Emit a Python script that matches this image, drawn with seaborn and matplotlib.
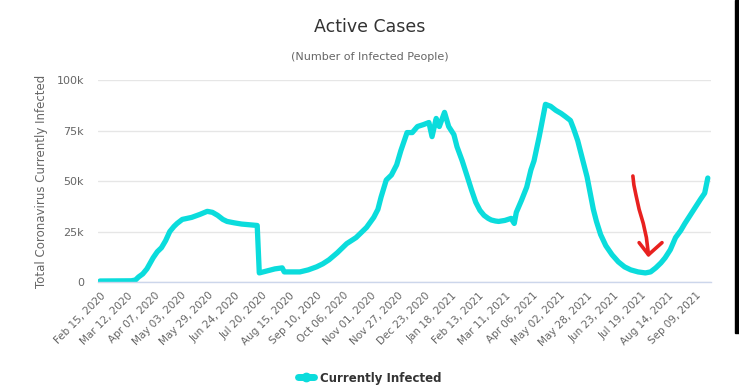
import pandas as pd
import matplotlib.pyplot as plt
from matplotlib.lines import Line2D
from matplotlib.patches import Rectangle
import seaborn as sns

start = pd.Timestamp("2020-02-15")

# days after Feb 15, 2020 and active cases (thousands)
days = [0, 30, 34, 37, 41, 45, 51, 55, 59, 63, 67, 71, 74, 79, 88, 96, 103,
        108, 113, 118, 122, 129, 136, 151, 153,
        168, 175, 177, 192, 200, 208, 214, 220, 228, 237, 246, 256, 263, 267,
        270, 275, 280, 285, 289, 295, 300, 305, 311, 316, 319, 323, 326, 331,
        335, 340, 343, 348, 353, 357, 361, 365, 369, 373, 376, 380, 383, 389,
        395, 398, 400, 405, 410, 414, 417, 422, 425,
        428, 433, 438, 443, 447, 452, 455, 459, 463, 468, 471, 474, 477, 481,
        486, 492, 498, 504, 510, 517, 524, 529, 534, 539, 543, 548, 553, 558,
        562, 567, 572, 577, 581, 584]
cases_k = [0.5, 0.6, 1, 2.5, 4, 6.5, 12, 15, 17, 20.5, 25, 27.5, 29, 31, 32, 33.5,
           35, 34.5, 33, 31, 30, 29.3, 28.7, 28, 4.5,
           6.5, 7, 5, 5, 6, 7.5, 9, 11, 14.5, 19, 22, 27, 32, 36,
           42, 50.5, 53, 58, 65, 74, 74, 77, 78, 79, 72, 81, 77, 84,
           77, 73, 67, 60, 52, 45.5, 39.5, 35.5, 33, 31.5, 30.7, 30.2, 30, 30.5,
           31.5, 29, 34.5, 40.5, 47, 55.5, 60, 72, 80,
           88, 87, 85, 83.5, 82, 80, 76, 70, 62, 52, 44, 36, 30, 23.5,
           18, 13.5, 10, 7.5, 6, 5, 4.5, 5, 7, 9.5, 12, 16, 22, 25.5,
           29, 33, 37, 41, 44, 51.5]

tick_step_days = 26
n_ticks = 23
y_ticks_k = [0, 25, 50, 75, 100]
y_tick_labels = ["0", "25k", "50k", "75k", "100k"]

# hand-drawn red arrow (days, thousands)
arrow_shaft_days = [512, 513, 515, 518, 522, 525, 527]
arrow_shaft_k = [52.5, 48, 43, 36, 29, 22, 13.5]
arrow_head_days = [518, 527, 540]
arrow_head_k = [19.5, 13.5, 19.5]

df = pd.DataFrame({
    "date": start + pd.to_timedelta(days, unit="D"),
    "cases": [v * 1000 for v in cases_k],
})

sns.set_style("white")
plt.rcParams["font.family"] = ["DejaVu Sans"]

fig = plt.figure(figsize=(7.39, 3.85), dpi=100)
ax = fig.add_axes([0.1326, 0.2675, 0.962 - 0.1326, 0.792 - 0.2675])

teal = "#0bdcdc"
sns.lineplot(data=df, x="date", y="cases", ax=ax, color=teal, linewidth=3.8,
             solid_capstyle="round", solid_joinstyle="round")

# red arrow annotation
adates = start + pd.to_timedelta(arrow_shaft_days, unit="D")
ax.plot(adates, [v * 1000 for v in arrow_shaft_k], color="#e8211f", lw=2.6,
        solid_capstyle="round", solid_joinstyle="round")
hdates = start + pd.to_timedelta(arrow_head_days, unit="D")
ax.plot(hdates, [v * 1000 for v in arrow_head_k], color="#e8211f", lw=2.6,
        solid_capstyle="round", solid_joinstyle="round")

ax.set_ylim(0, 100000)
ax.set_yticks([v * 1000 for v in y_ticks_k])
ax.set_yticklabels(y_tick_labels, color="#666666", fontsize=8)
ax.tick_params(axis="y", length=0, pad=10)

ticks = [start + pd.Timedelta(days=i * tick_step_days) for i in range(n_ticks)]
ax.set_xticks(ticks)
ax.set_xticklabels([t.strftime("%b %d, %Y") for t in ticks], rotation=45,
                   ha="right", rotation_mode="anchor", color="#666666", fontsize=7.5)
ax.tick_params(axis="x", length=0, pad=6)
ax.set_xlim(start - pd.Timedelta(days=2), start + pd.Timedelta(days=587))

ax.grid(axis="y", color="#e6e6e6", linewidth=1)
ax.grid(axis="x", visible=False)
for side in ["top", "right", "left"]:
    ax.spines[side].set_visible(False)
ax.spines["bottom"].set_color("#ccd6eb")
ax.spines["bottom"].set_linewidth(1)

ax.set_xlabel("")
ax.set_ylabel("Total Coronavirus Currently Infected", color="#666666", fontsize=8.5,
              labelpad=6)

fig.text(0.5, 0.93, "Active Cases", ha="center", va="center", fontsize=12.5,
         color="#333333")
fig.text(0.5, 0.852, "(Number of Infected People)", ha="center", va="center",
         fontsize=8, color="#666666")

handle = Line2D([0], [0], color=teal, lw=5, marker="o", markersize=6)
fig.legend([handle], ["Currently Infected"], loc="center", bbox_to_anchor=(0.5, 0.018),
           frameon=False, prop={"weight": "bold", "size": 8.5}, handlelength=1.4,
           handletextpad=0.5, labelcolor="#333333")

# black strip at right edge of the screenshot
fig.patches.append(Rectangle((0.9946, 0.135), 0.0054, 0.865, transform=fig.transFigure,
                             color="black", zorder=5))

fig.savefig("out.png", dpi=100)
